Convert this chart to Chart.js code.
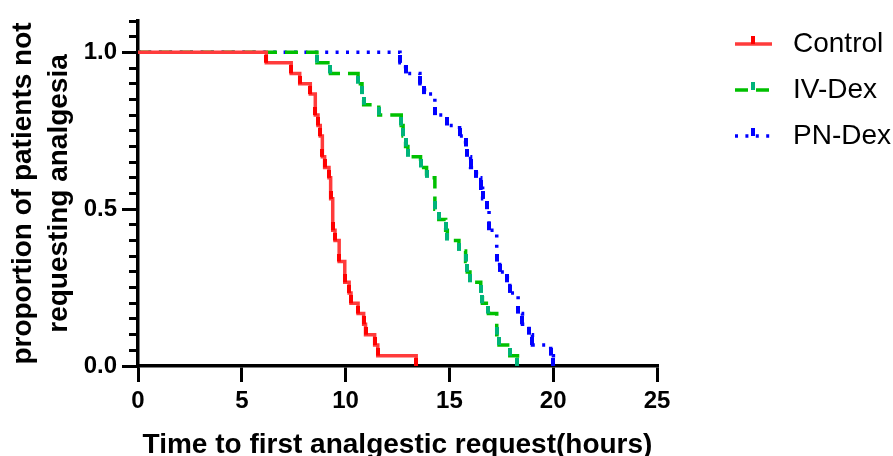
<!DOCTYPE html>
<html lang="en">
<head>
  <meta charset="UTF-8">
  <title>Time to first analgesic request</title>
  <script src="https://cdn.jsdelivr.net/npm/chart.js"></script>
  <style>
    body {
      margin: 0;
      background: #fff;
    }
    canvas {
      display: block;
    }
  </style>
</head>
<body>

<canvas id="kmChart" width="893" height="456"></canvas>

<script>
  // event times (hours) and proportion still not requesting
  const controlTimes = [0, 6.18, 7.38, 7.79, 8.30, 8.54, 8.67, 8.78, 8.88, 8.99, 9.20, 9.28, 9.38, 9.49, 9.69, 9.96, 10.17, 10.26, 10.60, 10.87, 10.96, 11.40, 11.55, 13.40];
  const controlProp = [1.0, 0.967, 0.933, 0.900, 0.867, 0.800, 0.767, 0.733, 0.667, 0.633, 0.600, 0.533, 0.433, 0.400, 0.333, 0.267, 0.233, 0.200, 0.167, 0.133, 0.100, 0.067, 0.033, 0.0];

  const ivDexTimes = [0, 8.62, 9.27, 10.60, 10.79, 10.87, 11.60, 12.68, 12.77, 12.89, 13.00, 13.61, 13.90, 14.30, 14.49, 14.82, 14.90, 15.46, 15.78, 15.86, 15.99, 16.51, 16.59, 16.88, 17.28, 17.39, 17.91, 18.28];
  const ivDexProp = [1.0, 0.967, 0.933, 0.900, 0.867, 0.833, 0.800, 0.767, 0.733, 0.700, 0.667, 0.633, 0.600, 0.500, 0.467, 0.433, 0.400, 0.367, 0.333, 0.300, 0.267, 0.233, 0.200, 0.167, 0.100, 0.067, 0.033, 0.0];

  const pnDexTimes = [0, 12.62, 12.89, 13.58, 13.80, 14.30, 14.89, 15.49, 15.78, 15.86, 16.02, 16.30, 16.51, 16.60, 16.80, 16.91, 17.28, 17.42, 17.79, 17.91, 18.31, 18.52, 18.84, 19.00, 19.88, 20.01];
  const pnDexProp = [1.0, 0.967, 0.933, 0.900, 0.867, 0.800, 0.767, 0.733, 0.700, 0.667, 0.633, 0.600, 0.567, 0.533, 0.500, 0.433, 0.333, 0.300, 0.267, 0.233, 0.167, 0.133, 0.100, 0.067, 0.033, 0.0];

  const seriesNames = ['Control', 'IV-Dex', 'PN-Dex'];
  const xTicks = [0, 5, 10, 15, 20, 25];
  const yTicks = [0, 0.5, 1.0];
  const yMinorTicks = [0, 0.05, 0.1, 0.15, 0.2, 0.25, 0.3, 0.35, 0.4, 0.45, 0.5, 0.55, 0.6, 0.65, 0.7, 0.75, 0.8, 0.85, 0.9, 0.95, 1.0, 1.05, 1.1];

  const FONT = 'Arial, "Liberation Sans", sans-serif';

  // small vertical bar marker, sits on top of each drop
  function dropMark(color) {
    const c = document.createElement('canvas');
    c.width = 4;
    c.height = 16;
    const g = c.getContext('2d');
    g.fillStyle = color;
    g.fillRect(0, 0, 4, 8);
    return c;
  }

  function toPoints(times, props) {
    return times.map((t, i) => ({ x: t, y: props[i] }));
  }

  function kmDataset(label, times, props, color, markColor, dash) {
    return {
      label: label,
      data: toPoints(times, props),
      stepped: 'before',
      borderColor: color,
      borderWidth: 3.5,
      borderDash: dash,
      pointStyle: dropMark(markColor),
      pointRadius: ctx => ctx.dataIndex === 0 ? 0 : 4,
      fill: false
    };
  }

  const legendPlugin = {
    id: 'kmLegend',
    afterDraw(chart) {
      const { ctx, chartArea } = chart;
      const x0 = chartArea.right + 78;
      chart.data.datasets.forEach((ds, i) => {
        const y = chartArea.top + 23 + i * 46;
        ctx.save();
        ctx.strokeStyle = ds.borderColor;
        ctx.lineWidth = ds.borderWidth;
        ctx.setLineDash(ds.borderDash);
        ctx.beginPath();
        ctx.moveTo(x0, y);
        ctx.lineTo(x0 + 37, y);
        ctx.stroke();
        ctx.drawImage(ds.pointStyle, x0 + 16, y - 8);
        ctx.fillStyle = '#000';
        ctx.font = '28px ' + FONT;
        ctx.textBaseline = 'middle';
        ctx.fillText(ds.label, x0 + 58, y);
        ctx.restore();
      });
    }
  };

  const ctx = document.getElementById('kmChart').getContext('2d');

  new Chart(ctx, {
    type: 'line',
    data: {
      datasets: [
        kmDataset(seriesNames[0], controlTimes, controlProp, '#ff3b3b', '#ff0000', []),
        kmDataset(seriesNames[1], ivDexTimes, ivDexProp, '#00c000', '#00b37a', [13, 8]),
        kmDataset(seriesNames[2], pnDexTimes, pnDexProp, '#0000ff', '#0000ff', [3, 7.4])
      ]
    },
    options: {
      responsive: false,
      animation: false,
      layout: {
        padding: { top: 21, right: 236, bottom: 0, left: 0 }
      },
      plugins: {
        legend: { display: false },
        tooltip: { enabled: false }
      },
      scales: {
        x: {
          type: 'linear',
          min: 0,
          max: 25,
          afterBuildTicks: s => { s.ticks = xTicks.map(v => ({ value: v })); },
          afterFit: s => { s.height = 90; },
          ticks: {
            color: '#000',
            padding: 5,
            font: { family: FONT, size: 24, weight: 'bold' }
          },
          grid: {
            drawOnChartArea: false,
            tickLength: 16,
            color: '#000',
            lineWidth: 3
          },
          border: { color: '#000', width: 3.5 },
          title: {
            display: true,
            text: 'Time to first analgestic request(hours)',
            color: '#000',
            padding: 0,
            font: { family: FONT, size: 28, weight: 'bold', lineHeight: 0.8 }
          }
        },
        y: {
          type: 'linear',
          position: 'left',
          weight: 1,
          min: 0,
          max: 1.1,
          afterBuildTicks: s => { s.ticks = yTicks.map(v => ({ value: v })); },
          afterFit: s => { s.width = 138; },
          ticks: {
            color: '#000',
            padding: 5,
            font: { family: FONT, size: 24, weight: 'bold' },
            callback: v => v.toFixed(1)
          },
          grid: {
            drawOnChartArea: false,
            tickLength: 16,
            color: '#000',
            lineWidth: 3
          },
          border: { color: '#000', width: 3.5 },
          title: {
            display: true,
            text: ['proportion of patients not', 'requesting analgesia'],
            color: '#000',
            padding: { top: 5, bottom: 0 },
            font: { family: FONT, size: 28, weight: 'bold', lineHeight: 1.3 }
          }
        },
        yMinor: {
          type: 'linear',
          position: 'left',
          weight: 0,
          min: 0,
          max: 1.1,
          afterBuildTicks: s => { s.ticks = yMinorTicks.map(v => ({ value: v })); },
          afterFit: s => { s.width = 0; },
          ticks: { display: false },
          grid: {
            drawOnChartArea: false,
            tickLength: 9,
            color: '#000',
            lineWidth: 3
          },
          border: { display: false }
        }
      }
    },
    plugins: [legendPlugin]
  });
</script>

</body>
</html>
